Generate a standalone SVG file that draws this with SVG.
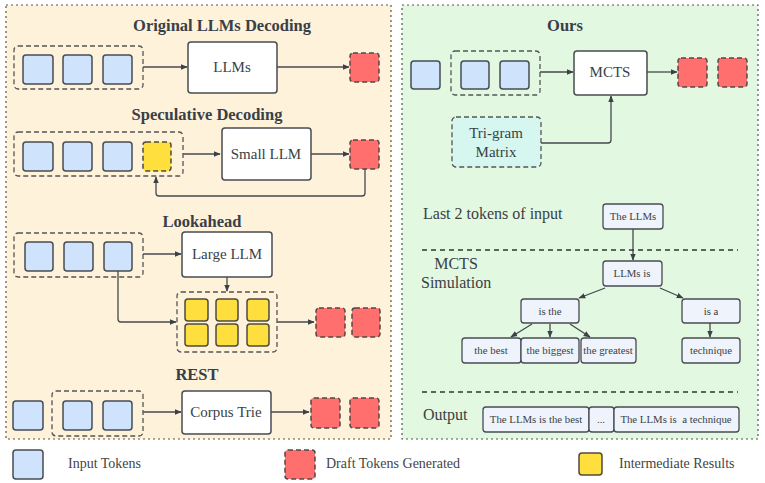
<svg xmlns="http://www.w3.org/2000/svg" width="765" height="483" viewBox="0 0 765 483">
<defs>
<marker id="ah" viewBox="0 0 10 10" refX="9" refY="5" markerWidth="7" markerHeight="7" orient="auto" markerUnits="userSpaceOnUse">
<path d="M0,1 L10,5 L0,9 z" fill="#3c4148"/>
</marker>
<style>
.panel{stroke:#555;stroke-width:1.2;stroke-dasharray:2,3}
.blue{fill:#d0e3fc;stroke:#474c53;stroke-width:1.5}
.red{fill:#ff6f6d;stroke:#4f4a4a;stroke-width:1.5;stroke-dasharray:5,3}
.yel{fill:#ffdf3d;stroke:#4d4b40;stroke-width:1.5}
.yeld{fill:#ffdf3d;stroke:#4d4b40;stroke-width:1.5;stroke-dasharray:5,3}
.grp{fill:none;stroke:#555;stroke-width:1.3;stroke-dasharray:5,3}
.box{fill:#fff;stroke:#474c53;stroke-width:1.5}
.tb{fill:#eef3fc;stroke:#474c53;stroke-width:1.3}
.cn{fill:none;stroke:#444a50;stroke-width:1.3;marker-end:url(#ah)}
.sep{stroke:#333;stroke-width:1.3;stroke-dasharray:5,4}
.title{font-family:"Liberation Serif",serif;font-weight:bold;font-size:16.5px;fill:#393f47;text-anchor:middle}
.lbl{font-family:"Liberation Serif",serif;font-size:15px;fill:#3a3f46;text-anchor:middle}
.sm{font-family:"Liberation Serif",serif;font-size:10.8px;fill:#3a3f46;text-anchor:middle}
.side{font-family:"Liberation Serif",serif;font-size:16px;fill:#3a3f46}
.leg{font-family:"Liberation Serif",serif;font-size:14px;fill:#444}
</style>
</defs>

<g id="panels">
<rect x="6" y="5" width="385" height="434" class="panel" fill="#fef2da"/>
<rect x="402" y="5" width="356" height="434" class="panel" fill="#e2f8e0"/>
</g>

<g id="titles">
<text x="222" y="31" class="title">Original LLMs Decoding</text>
<text x="207" y="120" class="title">Speculative Decoding</text>
<text x="202" y="227" class="title">Lookahead</text>
<text x="197" y="380" class="title">REST</text>
<text x="565" y="31" class="title">Ours</text>
</g>

<g id="connectors">
<path d="M143,67 L187,67" class="cn"/>
<path d="M277,67 L349,67" class="cn"/>
<path d="M183,154 L220,154" class="cn"/>
<path d="M311,154 L349,154" class="cn"/>
<path d="M365,169 L365,193 Q365,196 362,196 L159,196 Q156,196 156,193 L156,177" class="cn"/>
<path d="M143,254 L181,254" class="cn"/>
<path d="M227,277 L227,291" class="cn"/>
<path d="M118,271 L118,319 Q118,322 121,322 L176,322" class="cn"/>
<path d="M277,322 L314,322" class="cn"/>
<path d="M143,412 L181,412" class="cn"/>
<path d="M271,412 L309,412" class="cn"/>
<path d="M540,72 L573,72" class="cn"/>
<path d="M647,72 L677,72" class="cn"/>
<path d="M541,143 L608,143 Q611,143 611,140 L611,96" class="cn"/>
<path d="M633,229 L633,260" class="cn"/>
<path d="M605,288 L579,298" class="cn"/>
<path d="M660,288 L683,298" class="cn"/>
<path d="M532,324 L511,337" class="cn"/>
<path d="M550,324 L550,337" class="cn"/>
<path d="M570,324 L590,337" class="cn"/>
<path d="M710,323 L710,337" class="cn"/>
</g>

<g id="separators">
<line x1="422" y1="250" x2="738" y2="250" class="sep"/>
<line x1="422" y1="392" x2="738" y2="392" class="sep"/>
</g>

<g id="original">
<rect x="14" y="46" width="129" height="43" rx="4" class="grp"/>
<rect x="23" y="55" width="30" height="29" rx="3" class="blue"/>
<rect x="63" y="55" width="29" height="29" rx="3" class="blue"/>
<rect x="103" y="55" width="29" height="29" rx="3" class="blue"/>
<rect x="188" y="42" width="89" height="51" rx="3" class="box"/>
<text x="232" y="72" class="lbl">LLMs</text>
<rect x="350" y="53" width="29" height="29" rx="3" class="red"/>
</g>

<g id="speculative">
<rect x="14" y="132" width="169" height="44" rx="4" class="grp"/>
<rect x="23" y="142" width="30" height="29" rx="3" class="blue"/>
<rect x="63" y="142" width="29" height="29" rx="3" class="blue"/>
<rect x="103" y="142" width="29" height="29" rx="3" class="blue"/>
<rect x="143" y="142" width="28" height="29" rx="3" class="yeld"/>
<rect x="222" y="128" width="89" height="52" rx="3" class="box"/>
<text x="266" y="159" class="lbl">Small LLM</text>
<rect x="350" y="140" width="29" height="29" rx="3" class="red"/>
</g>

<g id="lookahead">
<rect x="14" y="233" width="129" height="44" rx="4" class="grp"/>
<rect x="25" y="242" width="28" height="29" rx="3" class="blue"/>
<rect x="64" y="242" width="29" height="29" rx="3" class="blue"/>
<rect x="104" y="242" width="28" height="29" rx="3" class="blue"/>
<rect x="182" y="232" width="90" height="45" rx="3" class="box"/>
<text x="227" y="259" class="lbl">Large LLM</text>
<rect x="177" y="292" width="100" height="60" rx="4" class="grp"/>
<rect x="185" y="299" width="23" height="22" rx="3" class="yel"/>
<rect x="216" y="299" width="22" height="22" rx="3" class="yel"/>
<rect x="247" y="299" width="22" height="22" rx="3" class="yel"/>
<rect x="185" y="324" width="23" height="22" rx="3" class="yel"/>
<rect x="216" y="324" width="22" height="22" rx="3" class="yel"/>
<rect x="247" y="324" width="22" height="22" rx="3" class="yel"/>
<rect x="316" y="308" width="29" height="29" rx="3" class="red"/>
<rect x="352" y="308" width="28" height="29" rx="3" class="red"/>
</g>

<g id="rest">
<rect x="13" y="401" width="30" height="29" rx="3" class="blue"/>
<rect x="52" y="391" width="91" height="45" rx="4" class="grp"/>
<rect x="63" y="401" width="29" height="29" rx="3" class="blue"/>
<rect x="103" y="401" width="29" height="29" rx="3" class="blue"/>
<rect x="182" y="391" width="89" height="43" rx="3" class="box"/>
<text x="226" y="417" class="lbl">Corpus Trie</text>
<rect x="311" y="398" width="29" height="30" rx="3" class="red"/>
<rect x="350" y="398" width="29" height="30" rx="3" class="red"/>
</g>

<g id="ours">
<rect x="411" y="61" width="29" height="28" rx="3" class="blue"/>
<rect x="451" y="51" width="89" height="44" rx="4" class="grp"/>
<rect x="461" y="61" width="28" height="28" rx="3" class="blue"/>
<rect x="500" y="61" width="29" height="28" rx="3" class="blue"/>
<rect x="574" y="51" width="73" height="44" rx="3" class="box"/>
<text x="610" y="77" class="lbl">MCTS</text>
<rect x="678" y="58" width="29" height="29" rx="3" class="red"/>
<rect x="718" y="58" width="29" height="29" rx="3" class="red"/>
<rect x="452" y="117" width="89" height="50" rx="4" fill="#d5f7f0" stroke="#555" stroke-width="1.3" stroke-dasharray="5,3"/>
<text x="496" y="138" class="lbl">Tri-gram</text>
<text x="496" y="157" class="lbl">Matrix</text>
</g>

<g id="tree">
<text x="423" y="219" class="side">Last 2 tokens of input</text>
<text x="456" y="269" class="side" text-anchor="middle">MCTS</text>
<text x="421" y="288" class="side">Simulation</text>
<text x="423" y="420" class="side">Output</text>
<rect x="603" y="204" width="60" height="25" rx="3" class="tb"/>
<text x="633" y="220" class="sm">The LLMs</text>
<rect x="603" y="261" width="59" height="25" rx="3" class="tb"/>
<text x="632" y="277" class="sm">LLMs is</text>
<rect x="521" y="299" width="58" height="24" rx="3" class="tb"/>
<text x="550" y="315" class="sm">is the</text>
<rect x="682" y="299" width="58" height="24" rx="3" class="tb"/>
<text x="711" y="315" class="sm">is a</text>
<rect x="462" y="338" width="59" height="25" rx="3" class="tb"/>
<text x="491" y="354" class="sm">the best</text>
<rect x="521" y="338" width="58" height="25" rx="3" class="tb"/>
<text x="550" y="354" class="sm">the biggest</text>
<rect x="581" y="338" width="55" height="25" rx="3" class="tb"/>
<text x="608" y="354" class="sm">the greatest</text>
<rect x="682" y="338" width="58" height="25" rx="3" class="tb"/>
<text x="711" y="354" class="sm">technique</text>
<rect x="483" y="407" width="106" height="25" rx="3" class="tb"/>
<text x="536" y="423" class="sm">The LLMs is the best</text>
<rect x="589" y="407" width="25" height="25" rx="3" class="tb"/>
<text x="601" y="423" class="sm">...</text>
<rect x="614" y="407" width="125" height="25" rx="3" class="tb"/>
<text x="676" y="423" class="sm" xml:space="preserve">The LLMs is  a technique</text>
</g>

<g id="legend">
<rect x="13" y="450" width="30" height="29" rx="3" class="blue"/>
<text x="68" y="468" class="leg">Input Tokens</text>
<rect x="285" y="450" width="30" height="29" rx="3" class="red"/>
<text x="326" y="468" class="leg">Draft Tokens Generated</text>
<rect x="579" y="453" width="23" height="22" rx="3" class="yel"/>
<text x="619" y="468" class="leg">Intermediate Results</text>
</g>
</svg>
